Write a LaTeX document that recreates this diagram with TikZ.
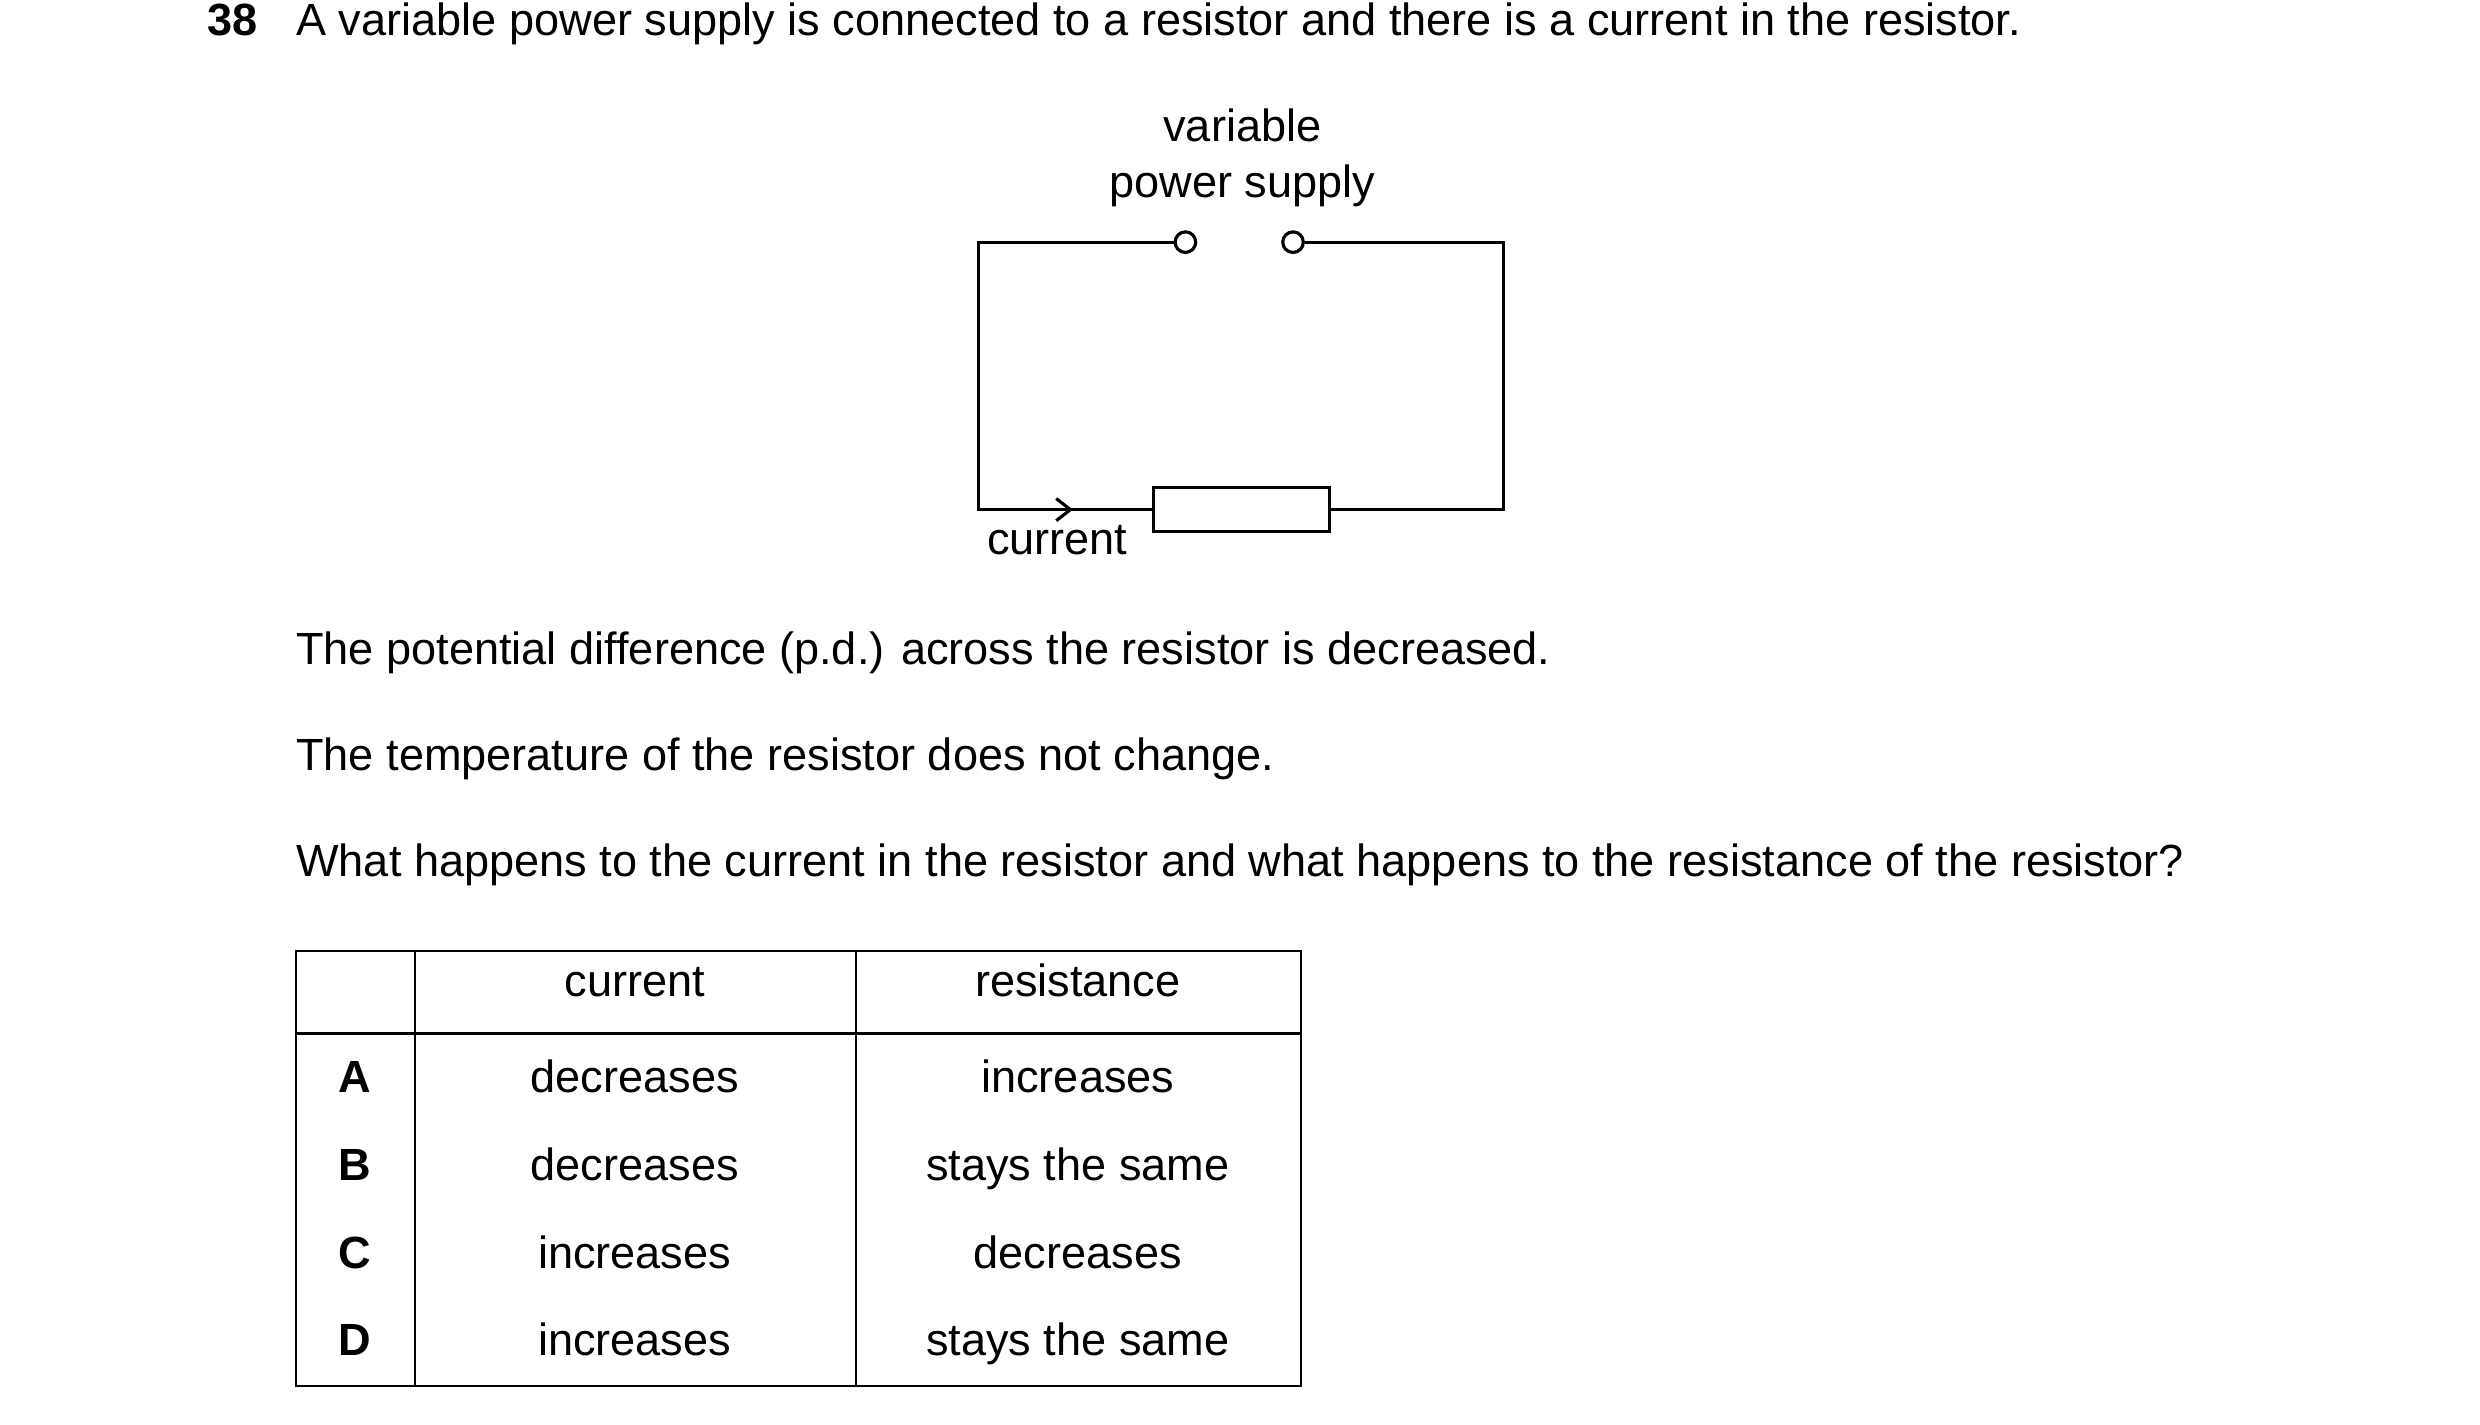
\documentclass[tikz,border=0pt]{standalone}
\usepackage{fontspec}
\setmainfont{Liberation Sans}
\usetikzlibrary{arrows.meta}
\begin{document}
\begin{tikzpicture}[x=1pt,y=-1pt,
  txt/.style={inner sep=0pt,text height=0.72em,text depth=0.2em,font=\fontsize{28.5}{34}\selectfont},
  wire/.style={line width=2pt},
  term/.style={circle,draw,line width=2pt,minimum size=13pt,inner sep=0pt,fill=white},
  grid/.style={line width=1.3pt}]
\useasboundingbox[fill=white] (0,0) rectangle (1567,900);
% heading
\node[txt,anchor=west,font=\fontsize{28.5}{34}\selectfont\bfseries] (num) at (131,20) {38};
\node[txt,anchor=west] (q) at (187,20) {A variable power supply is connected to a resistor and there is a current in the resistor.};
% circuit
\coordinate (tl) at (618,153); \coordinate (tr) at (950,153);
\coordinate (bl) at (618,322); \coordinate (br) at (950,322);
\node[term] (t1) at (749,153) {};
\node[term] (t2) at (817,153) {};
\node[draw,line width=2pt,minimum width=111pt,minimum height=28pt,inner sep=0pt] (R) at (784.5,322) {};
\draw[wire] (t1.west) -- (tl) -- (bl) -- (R.west);
\draw[wire] (t2.east) -- (tr) -- (br) -- (R.east);
\coordinate (a1) at (650,322); \coordinate (a2) at (678,322);
\draw[line width=2pt,-{Straight Barb[length=9pt,width=14pt,line width=2pt]}] (a1) -- (a2);
\node[txt] (v1) at (785,87) {variable};
\node[txt] (v2) at (785,122) {power supply};
\node[txt] (cur) at (668,348) {current};
% text
\node[txt,anchor=west] (l1) at (187,417) {The potential difference (p.d.) across the resistor is decreased.};
\node[txt,anchor=west] (l2) at (187,484) {The temperature of the resistor does not change.};
\node[txt,anchor=west] (l3) at (187,551) {What happens to the current in the resistor and what happens to the resistance of the resistor?};
% table
\draw[grid] (187,601) rectangle (822,876);
\draw[grid] (187,653) -- (822,653);
\draw[grid] (262,601) -- (262,876);
\draw[grid] (541,601) -- (541,876);
\node[txt] (h1) at (401,627) {current};
\node[txt] (h2) at (681,627) {resistance};
\foreach \l/\c/\r/\y in {A/decreases/increases/688, B/decreases/stays the same/743, C/increases/decreases/799, D/increases/stays the same/854}{
  \node[txt,font=\fontsize{28.5}{34}\selectfont\bfseries] (L\l) at (224,\y) {\l};
  \node[txt] (C\l) at (401,\y) {\c};
  \node[txt] (R\l) at (681,\y) {\r};
}
\end{tikzpicture}
\end{document}
